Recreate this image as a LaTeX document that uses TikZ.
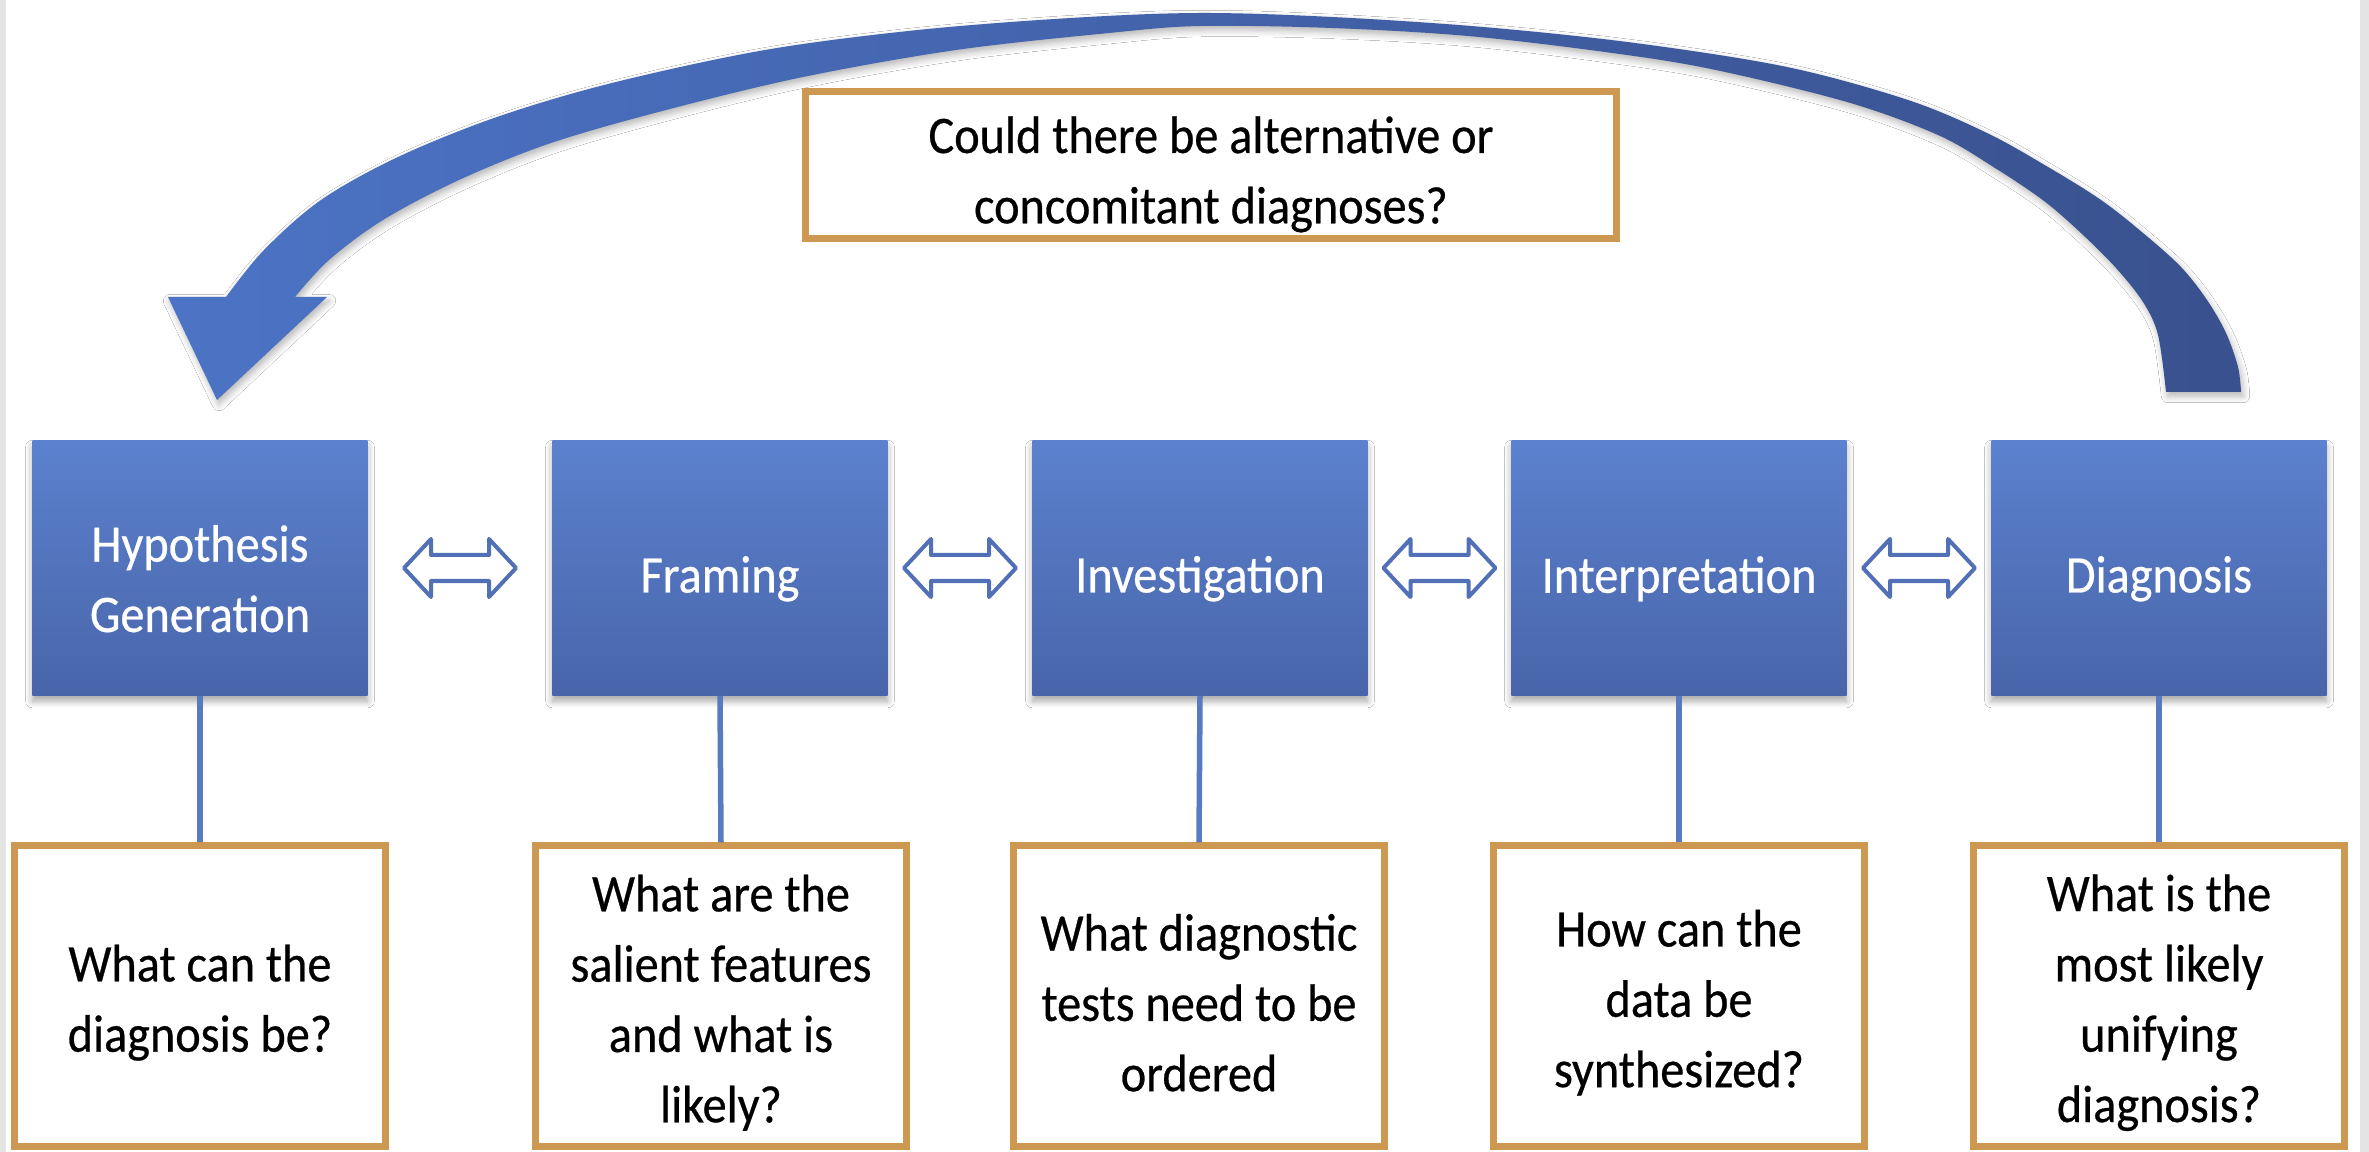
\documentclass[tikz,border=0pt]{standalone}
\usepackage{fontspec}
\setmainfont{Carlito}[FakeStretch=0.915, FakeBold=0.5]
\usetikzlibrary{shadows,shadows.blur}

\definecolor{boxtop}{RGB}{92,129,206}
\definecolor{boxbot}{RGB}{72,101,170}
\definecolor{linkblue}{RGB}{88,122,192}
\definecolor{arrowblue}{RGB}{82,112,182}
\definecolor{tan}{RGB}{205,152,82}
\definecolor{arcleft}{RGB}{76,115,197}
\definecolor{arcright}{RGB}{57,81,142}
\definecolor{edgegray}{RGB}{228,228,228}

% invisible strut that sets the height of a first text line
\newcommand\padtop[1]{\rule{0pt}{#1}}

\begin{document}
\begin{tikzpicture}[x=0.01cm,y=-0.01cm,
  txt/.style={align=center, font=\fontsize{15pt}{20pt}\selectfont},
  stage/.style={txt, minimum width=3.35cm, minimum height=2.54cm, inner sep=0pt,
    top color=boxtop, bottom color=boxbot, draw=none, text=white,
    blur shadow={shadow xshift=0pt, shadow yshift=-0.06cm, shadow blur steps=6, shadow opacity=35}},
  question/.style={txt, draw=tan, line width=0.07cm, fill=white, inner sep=0pt,
    minimum width=3.71cm, minimum height=3.0cm},
  link/.style={draw=linkblue, line width=0.055cm},
  dblarrow/.pic={
    \draw[draw=arrowblue, fill=white, line width=0.04cm, line join=round]
      (-56,0) -- (-29,-29) -- (-29,-13) -- (29,-13) -- (29,-29) -- (56,0)
      -- (29,29) -- (29,13) -- (-29,13) -- (-29,29) -- cycle;
  }
]
\useasboundingbox (0,0) rectangle (2369,1152);
\fill[white] (0,0) rectangle (2369,1152);
\fill[edgegray] (0,0) rectangle (6,1152);
\fill[edgegray] (2360,0) rectangle (2369,1152);

% curved feedback arrow from Diagnosis back to Hypothesis Generation
\path[left color=arcleft, right color=arcright,
      blur shadow={shadow xshift=0.02cm, shadow yshift=-0.04cm, shadow blur steps=6, shadow opacity=30}]
  plot[smooth, tension=0.55] coordinates {(2241,392) (2238,367) (2226,333) (2207,300) (2181,267)
    (2143,233) (2101,200) (2048,167) (1987,133) (1908,100) (1787,67) (1635,43) (1483,27)
    (1332,17) (1200,13) (1071,18) (918,30) (765,50) (612,83) (497,117) (398,157) (321,200)
    (264,250) (226,297)}
  -- (168,297) -- (217,400) -- (327,297) -- (295,297)
  -- plot[smooth, tension=0.55] coordinates {(295,297) (329,260) (383,220) (459,180) (551,143)
    (666,110) (803,77) (956,50) (1109,33) (1200,26) (1332,28) (1468,36) (1605,52) (1711,69)
    (1847,102) (1938,135) (1995,168) (2044,201) (2082,234) (2116,268) (2143,302) (2158,335)
    (2166,392)}
  -- cycle;

% top question
\node[question, minimum width=8.11cm, minimum height=1.47cm] (alt) at (1211,165)
  {\padtop{1.05em}Could there be alternative or\\concomitant diagnoses?};

% stages
\node[stage] (h1) at (200,568) {\padtop{1.1em}Hypothesis\\Generation};
\node[stage] (h2) at (720,568) {\padtop{1.1em}Framing};
\node[stage] (h3) at (1200,568) {\padtop{1.1em}Investigation};
\node[stage] (h4) at (1679,568) {\padtop{1.1em}Interpretation};
\node[stage] (h5) at (2159,568) {\padtop{1.1em}Diagnosis};

% questions under each stage
\node[question] (q1) at (200,996) {\padtop{0.95em}What can the\\diagnosis be?};
\node[question] (q2) at (721,996) {\padtop{0.95em}What are the\\salient features\\and what is\\likely?};
\node[question] (q3) at (1199,996) {\padtop{0.95em}What diagnostic\\tests need to be\\ordered};
\node[question] (q4) at (1679,996) {\padtop{0.95em}How can the\\data be\\synthesized?};
\node[question] (q5) at (2159,996) {\padtop{0.95em}What is the\\most likely\\unifying\\diagnosis?};

% links from stages to questions
\foreach \i in {1,...,5} {
  \draw[link] (h\i.south) -- (q\i.north);
}

% two-way arrows between neighbouring stages
\foreach \a/\b in {1/2,2/3,3/4,4/5} {
  \path (h\a.east) -- (h\b.west) coordinate[midway] (m\a\b);
  \pic at (m\a\b) {dblarrow};
}
\end{tikzpicture}
\end{document}
